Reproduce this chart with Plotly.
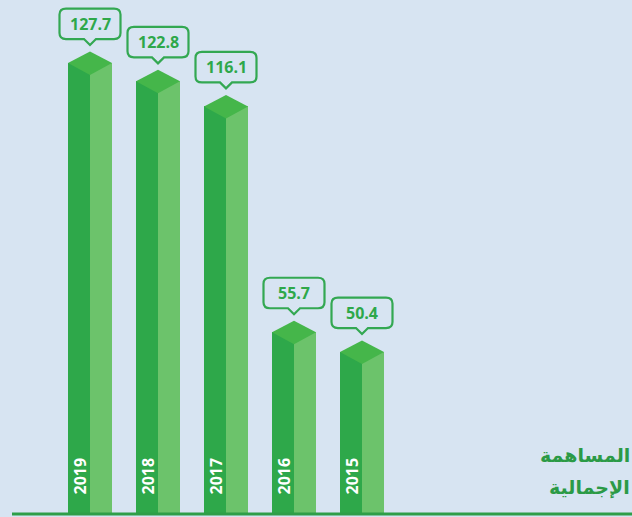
import plotly.graph_objects as go

years = ["2019", "2018", "2017", "2016", "2015"]
values = [127.7, 122.8, 116.1, 55.7, 50.4]
title_lines = ["المساهمة", "الإجمالية"]

BG = "#d7e4f2"
DARK = "#2ea84a"
LIGHT = "#6cc36b"
TOP = "#45b64a"
LINE = "#2e9e48"
TXT = "#2b9a46"

W, H = 632, 517
px_per_x = 68.0          # pixels per category step
px_per_v = 3.739         # pixels per value unit
x_first_px = 90.0
base_val = 7.355         # value at the baseline
half_w = 22.0 / px_per_x

xs = list(range(len(values)))
x0 = -x_first_px / px_per_x
x1 = x0 + W / px_per_x
y_bottom = base_val - 4.0 / px_per_v
y_top = y_bottom + H / px_per_v

fig = go.Figure()
# left (dark) faces
fig.add_trace(go.Bar(x=xs, y=[v - base_val for v in values], base=base_val,
                     width=half_w, offset=-half_w, marker=dict(color=DARK, line=dict(width=0)),
                     hoverinfo="skip", showlegend=False))
# right (light) faces
fig.add_trace(go.Bar(x=xs, y=[v - base_val for v in values], base=base_val,
                     width=half_w, offset=0, marker=dict(color=LIGHT, line=dict(width=0)),
                     hoverinfo="skip", showlegend=False))

shapes = []
annotations = []
for i, (yr, v) in enumerate(zip(years, values)):
    # top rhombus
    shapes.append(dict(type="path", xref="x", yref="y", xsizemode="pixel", ysizemode="pixel",
                       xanchor=i, yanchor=v,
                       path="M -22,0 L 0,11.5 L 22,0 L 0,-12 Z",
                       fillcolor=TOP, line=dict(width=0), layer="above"))
    # speech bubble
    shapes.append(dict(type="path", xref="x", yref="y", xsizemode="pixel", ysizemode="pixel",
                       xanchor=i, yanchor=v,
                       path=("M -24,24 L -6,24 L 0,18 L 6,24 L 24,24 "
                             "Q 30.5,24 30.5,30 L 30.5,48.5 Q 30.5,54.5 24,54.5 "
                             "L -24,54.5 Q -30.5,54.5 -30.5,48.5 L -30.5,30 Q -30.5,24 -24,24 Z"),
                       fillcolor=BG, line=dict(color="#33a852", width=2.2), layer="above"))
    annotations.append(dict(x=i, y=v, xref="x", yref="y", text=f"<b>{v}</b>",
                            showarrow=False, yshift=39, xanchor="center", yanchor="middle",
                            font=dict(family="Open Sans", size=16, color="#2ea84a")))
    annotations.append(dict(x=i - 11.0 / px_per_x, y=base_val, xref="x", yref="y",
                            text=f"<b>{yr}</b>", textangle=-90, showarrow=False,
                            xanchor="center", yanchor="bottom", yshift=16,
                            font=dict(family="Open Sans", size=16, color="white")))

# baseline
shapes.append(dict(type="line", xref="paper", yref="y", x0=12.0 / W, x1=1, y0=base_val - 1.0 / px_per_v,
                   y1=base_val - 1.0 / px_per_v, line=dict(color=LINE, width=3), layer="above"))

for k, (line_txt, ypx) in enumerate(zip(title_lines, [455, 487])):
    annotations.append(dict(xref="paper", yref="paper", x=1.0, y=(H - ypx) / H, xanchor="right",
                            yanchor="middle", showarrow=False, align="right",
                            text="<b>" + line_txt + "</b>",
                            font=dict(family="DejaVu Sans", size=19, color=TXT)))

fig.update_layout(
    width=W, height=H, margin=dict(l=0, r=0, t=0, b=0),
    paper_bgcolor=BG, plot_bgcolor=BG, barmode="overlay", bargap=0,
    xaxis=dict(range=[x0, x1], visible=False, fixedrange=True),
    yaxis=dict(range=[y_bottom, y_top], visible=False, fixedrange=True),
    shapes=shapes, annotations=annotations, showlegend=False,
)

fig.write_html("out.html", config={"displayModeBar": False},
               post_script="document.body.style.margin='0';document.body.style.overflow='hidden';"
                           "document.body.style.background='" + BG + "';")
